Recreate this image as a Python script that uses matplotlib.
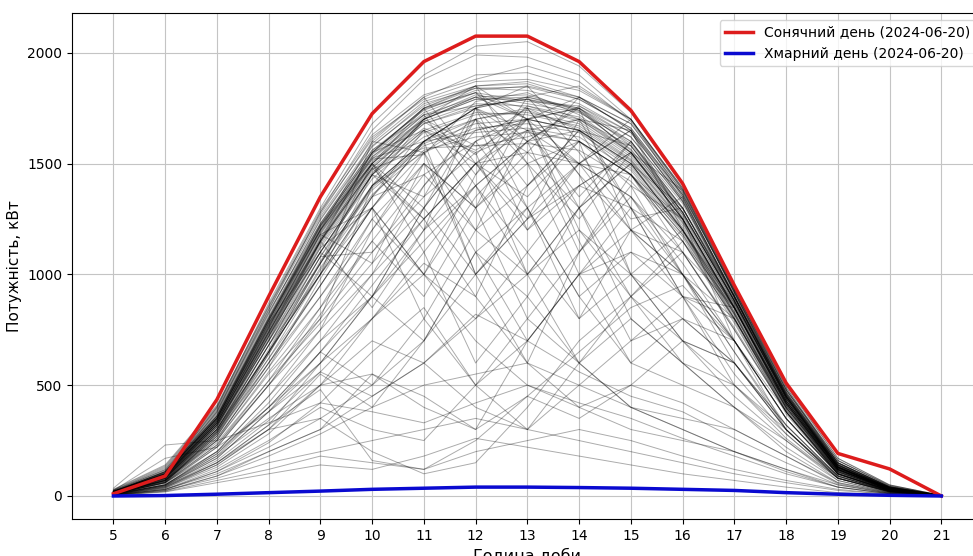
import matplotlib
matplotlib.use('Agg')
import matplotlib.pyplot as plt

plt.rcParams['font.family'] = ['DejaVu Sans']
plt.rcParams['font.size'] = 10

hours = list(range(5, 22))

# sunny / cloudy reference days
sunny = [10, 90, 435, 900, 1350, 1725, 1960, 2075, 2075, 1960, 1740, 1410, 950, 510, 192, 122, 0]
cloudy = [0, 2, 8, 15, 22, 30, 35, 40, 40, 38, 35, 30, 25, 15, 8, 3, 0]

# all daily profiles (kW per hour, 5..21)
days = [
    [20, 110, 380, 820, 1250, 1580, 1760, 1850, 1870, 1800, 1650, 1360, 930, 480, 150, 40, 2],
    [15, 90, 340, 760, 1180, 1500, 1700, 1790, 1800, 1740, 1560, 1280, 880, 440, 130, 35, 2],
    [25, 130, 400, 850, 1280, 1610, 1800, 1900, 1910, 1840, 1700, 1390, 940, 490, 160, 45, 3],
    [10, 70, 300, 700, 1100, 1430, 1640, 1720, 1730, 1680, 1520, 1240, 850, 420, 120, 30, 1],
    [18, 100, 360, 790, 1210, 1540, 1730, 1820, 1780, 1760, 1620, 1330, 900, 460, 140, 38, 2],
    [12, 80, 320, 730, 1140, 1470, 1660, 1560, 1700, 1650, 1500, 1220, 830, 400, 110, 28, 1],
    [22, 120, 390, 830, 1230, 1560, 1720, 1760, 1790, 1700, 1540, 1260, 870, 450, 135, 40, 2],
    [8, 60, 280, 650, 1050, 1380, 1580, 1660, 1680, 1640, 1480, 1200, 820, 390, 100, 25, 1],
    [30, 140, 410, 860, 1290, 1630, 1810, 1880, 1940, 1870, 1690, 1380, 930, 500, 170, 50, 3],
    [14, 85, 330, 740, 1150, 1480, 1690, 1770, 1760, 1690, 1530, 1250, 860, 430, 125, 32, 2],
    [20, 105, 350, 780, 1200, 1520, 1540, 1780, 1820, 1720, 1550, 1270, 890, 455, 140, 36, 2],
    [16, 95, 345, 770, 1190, 1500, 1710, 1810, 1770, 1730, 1600, 1320, 895, 445, 135, 34, 2],
    [10, 75, 310, 710, 1120, 1450, 1620, 1700, 1740, 1660, 1510, 1230, 840, 410, 115, 30, 1],
    [25, 125, 395, 840, 1260, 1590, 1780, 1850, 1860, 1790, 1660, 1360, 920, 470, 150, 42, 2],
    [12, 70, 290, 680, 1080, 1400, 1600, 1640, 1660, 1620, 1470, 1190, 810, 380, 105, 26, 1],
    [18, 110, 370, 800, 1220, 1550, 1750, 1840, 1830, 1770, 1640, 1340, 910, 465, 145, 40, 2],
    [20, 100, 355, 795, 1215, 1530, 1700, 1580, 1620, 1700, 1580, 1280, 880, 450, 140, 38, 2],
    [15, 90, 330, 750, 1160, 1490, 1680, 1760, 1790, 1750, 1620, 1330, 900, 460, 140, 36, 2],
    [22, 115, 375, 810, 1230, 1560, 1740, 1830, 1850, 1800, 1680, 1370, 915, 462, 150, 42, 2],
    [10, 65, 270, 640, 1030, 1360, 1560, 1620, 1640, 1600, 1450, 1180, 800, 380, 100, 24, 1],
    [28, 135, 405, 855, 1270, 1620, 1790, 1870, 1880, 1830, 1700, 1385, 935, 480, 160, 48, 3],
    [14, 88, 335, 755, 1170, 1500, 1690, 1540, 1760, 1710, 1550, 1270, 870, 430, 128, 33, 2],
    [17, 98, 350, 775, 1195, 1520, 1720, 1800, 1810, 1740, 1590, 1300, 885, 448, 138, 36, 2],
    [9, 62, 285, 660, 1060, 1390, 1590, 1680, 1700, 1650, 1490, 1210, 825, 395, 108, 27, 1],
    [21, 108, 365, 805, 1225, 1545, 1745, 1820, 1600, 1760, 1640, 1340, 905, 458, 143, 39, 2],
    [19, 102, 360, 790, 1205, 1525, 1600, 1750, 1800, 1750, 1580, 1295, 895, 452, 140, 37, 2],
    [11, 78, 315, 720, 1130, 1460, 1650, 1730, 1720, 1670, 1515, 1235, 845, 415, 118, 30, 1],
    [24, 118, 385, 825, 1245, 1575, 1770, 1840, 1845, 1790, 1660, 1360, 925, 468, 148, 41, 2],
    [13, 82, 325, 735, 1145, 1475, 1570, 1580, 1590, 1560, 1420, 1170, 790, 370, 98, 24, 1],
    [16, 92, 340, 765, 1185, 1510, 1700, 1790, 1790, 1735, 1565, 1280, 880, 442, 132, 34, 2],
    [20, 100, 400, 870, 1300, 1680, 1900, 2030, 2050, 1940, 1730, 1400, 940, 500, 170, 50, 3],
    [18, 95, 380, 840, 1280, 1650, 1880, 1990, 1980, 1900, 1700, 1380, 920, 480, 160, 45, 2],
    [12, 70, 250, 600, 950, 1300, 1600, 1750, 1800, 1850, 1700, 1390, 930, 490, 150, 40, 2],
    [10, 60, 220, 500, 800, 1400, 1700, 1800, 1700, 1800, 1680, 1370, 920, 480, 150, 40, 2],
    [15, 90, 330, 740, 1150, 1480, 1250, 900, 1400, 1600, 1450, 1150, 800, 400, 120, 30, 1],
    [20, 100, 350, 780, 1100, 900, 1300, 1600, 1700, 1500, 1200, 900, 700, 350, 100, 25, 1],
    [10, 70, 280, 600, 900, 1200, 1500, 1300, 800, 1100, 1400, 1250, 850, 420, 120, 30, 1],
    [12, 80, 300, 650, 1000, 1350, 1600, 1750, 1500, 1000, 600, 800, 700, 300, 80, 20, 1],
    [18, 110, 360, 800, 1200, 1500, 1100, 600, 900, 1300, 1500, 1200, 850, 420, 130, 34, 2],
    [8, 50, 200, 450, 700, 1000, 1400, 1650, 1700, 1650, 1500, 1200, 820, 400, 110, 28, 1],
    [14, 85, 320, 720, 1100, 1450, 1650, 1500, 1200, 1400, 1550, 1250, 850, 430, 125, 32, 2],
    [16, 95, 340, 760, 1180, 1300, 800, 500, 700, 1000, 1200, 1100, 750, 380, 100, 25, 1],
    [10, 60, 250, 550, 800, 1100, 1350, 1550, 1650, 1600, 1400, 1000, 600, 300, 80, 20, 1],
    [20, 105, 350, 790, 1200, 1530, 1720, 1400, 1000, 1300, 1600, 1280, 880, 440, 130, 35, 2],
    [12, 75, 290, 620, 950, 1300, 1000, 1350, 1600, 1750, 1550, 1250, 850, 410, 120, 30, 1],
    [9, 55, 220, 500, 820, 1150, 1450, 1600, 1300, 900, 1100, 1000, 700, 350, 95, 22, 1],
    [15, 88, 320, 700, 1050, 1400, 1600, 1700, 1750, 1450, 1000, 700, 600, 320, 90, 22, 1],
    [18, 100, 340, 750, 1150, 850, 1200, 1500, 1650, 1700, 1550, 1250, 860, 430, 130, 34, 2],
    [11, 70, 260, 580, 900, 1250, 1500, 1100, 700, 1000, 1300, 1150, 800, 400, 110, 28, 1],
    [13, 80, 300, 680, 1050, 1400, 1550, 1650, 1700, 1200, 900, 1100, 850, 420, 120, 30, 1],
    [7, 45, 180, 400, 650, 950, 1250, 1500, 1550, 1500, 1350, 1100, 760, 380, 100, 24, 1],
    [17, 95, 330, 730, 1100, 1450, 1250, 1500, 1350, 1600, 1450, 1150, 780, 380, 110, 28, 1],
    [14, 85, 310, 700, 1080, 1100, 1400, 1700, 1550, 1300, 1500, 1300, 900, 450, 130, 33, 2],
    [10, 65, 240, 520, 780, 1050, 1300, 1000, 1250, 1500, 1450, 1200, 830, 410, 115, 30, 1],
    [19, 105, 350, 770, 1150, 1480, 1680, 1750, 1300, 800, 1000, 1200, 870, 430, 125, 32, 2],
    [12, 70, 270, 600, 950, 1300, 1550, 1000, 600, 1100, 1450, 1250, 850, 420, 120, 30, 1],
    [16, 90, 320, 720, 1100, 1450, 1700, 1800, 1750, 1650, 1300, 900, 500, 300, 90, 22, 1],
    [8, 50, 190, 420, 700, 900, 1150, 1400, 1600, 1650, 1500, 1200, 800, 390, 105, 26, 1],
    [15, 85, 300, 680, 1000, 1300, 1000, 800, 1100, 1400, 1550, 1250, 850, 420, 118, 30, 1],
    [20, 110, 360, 800, 1220, 1550, 1750, 1820, 1700, 1300, 800, 600, 500, 260, 80, 20, 1],
    [10, 60, 230, 500, 750, 1000, 1250, 1500, 1700, 1750, 1600, 1300, 880, 440, 130, 33, 2],
    [13, 78, 290, 650, 1000, 1350, 1450, 1200, 1400, 1650, 1580, 1280, 880, 440, 128, 33, 2],
    [17, 96, 330, 740, 1120, 1300, 1600, 1750, 1650, 1500, 1350, 1000, 650, 320, 90, 22, 1],
    [11, 68, 250, 560, 850, 1150, 900, 1300, 1500, 1600, 1450, 1180, 820, 410, 115, 30, 1],
    [14, 80, 300, 650, 1050, 1500, 1300, 1700, 1200, 1500, 1650, 1350, 900, 470, 140, 35, 2],
    [16, 90, 320, 700, 1150, 1550, 1750, 1450, 1800, 1550, 1250, 1300, 900, 450, 130, 33, 2],
    [11, 65, 260, 580, 980, 1350, 1650, 1550, 1000, 600, 900, 1150, 850, 420, 120, 30, 1],
    [13, 75, 290, 650, 1000, 1600, 1550, 1200, 1650, 1350, 1600, 1300, 880, 440, 130, 33, 2],
    [15, 85, 310, 720, 1150, 1500, 1200, 1750, 1600, 1100, 1350, 1050, 700, 350, 100, 25, 1],
    [9, 50, 200, 450, 750, 1200, 1550, 1700, 1400, 1650, 1450, 1100, 750, 380, 100, 25, 1],
    [17, 95, 340, 760, 1180, 1050, 1500, 1300, 1750, 1700, 1300, 900, 800, 420, 120, 30, 1],
    [12, 70, 270, 620, 1000, 1450, 1700, 1850, 1500, 1250, 1550, 1380, 920, 460, 135, 34, 2],
    [20, 100, 350, 780, 1200, 1600, 1800, 1500, 1250, 1700, 1650, 1200, 850, 430, 125, 32, 2],
    [8, 45, 170, 380, 650, 900, 1300, 1600, 1750, 1450, 1200, 1350, 900, 450, 130, 33, 2],
    [14, 82, 300, 680, 1080, 1450, 1350, 1750, 1850, 1600, 1000, 800, 600, 300, 85, 20, 1],
    [16, 92, 330, 740, 1160, 1550, 1650, 1300, 1550, 1800, 1650, 1250, 700, 380, 110, 28, 1],
    [6, 35, 140, 300, 500, 800, 1100, 1400, 1600, 1500, 1700, 1350, 900, 450, 130, 33, 2],
    [10, 60, 230, 520, 850, 1250, 1000, 1450, 1700, 1750, 1200, 1000, 800, 400, 115, 28, 1],
    [18, 100, 350, 790, 1220, 1500, 1750, 1850, 1700, 1150, 700, 900, 850, 430, 125, 32, 2],
    [12, 72, 280, 640, 1020, 1400, 1600, 1000, 1300, 1500, 1650, 1330, 900, 450, 132, 33, 2],
    [5, 30, 120, 250, 400, 300, 250, 500, 800, 600, 400, 300, 200, 120, 50, 12, 0],
    [8, 45, 150, 300, 350, 200, 100, 150, 400, 700, 900, 600, 400, 200, 60, 15, 0],
    [4, 25, 80, 150, 200, 250, 300, 350, 300, 250, 200, 150, 100, 60, 25, 8, 0],
    [6, 35, 130, 280, 500, 700, 600, 400, 300, 500, 700, 800, 600, 300, 90, 20, 1],
    [10, 60, 200, 400, 600, 800, 1000, 700, 500, 400, 300, 250, 200, 120, 40, 10, 0],
    [3, 20, 70, 120, 180, 150, 120, 200, 250, 300, 250, 180, 120, 70, 30, 8, 0],
    [7, 40, 140, 300, 550, 400, 700, 1100, 1300, 900, 600, 500, 400, 250, 80, 18, 1],
    [5, 30, 100, 200, 300, 450, 600, 800, 1000, 1200, 1000, 700, 450, 250, 70, 15, 0],
    [9, 50, 180, 350, 500, 550, 450, 300, 450, 650, 850, 950, 700, 350, 100, 22, 1],
    [4, 22, 90, 180, 280, 400, 500, 550, 600, 500, 400, 300, 200, 110, 40, 10, 0],
    [6, 38, 150, 320, 480, 160, 120, 250, 450, 350, 500, 420, 300, 180, 60, 14, 0],
    [8, 48, 170, 380, 600, 900, 1200, 1400, 1100, 800, 1200, 1000, 700, 350, 100, 22, 1],
    [5, 28, 110, 220, 350, 500, 700, 1000, 1250, 1400, 1300, 1000, 650, 300, 80, 18, 0],
    [7, 42, 160, 340, 560, 800, 1050, 900, 600, 400, 500, 700, 600, 320, 90, 20, 1],
    [3, 18, 60, 100, 140, 120, 180, 260, 220, 180, 140, 100, 70, 40, 15, 5, 0],
    [6, 40, 150, 320, 600, 900, 700, 1100, 900, 600, 800, 600, 400, 220, 70, 16, 1],
    [5, 30, 110, 240, 420, 650, 850, 500, 300, 600, 400, 350, 300, 180, 55, 12, 0],
    [8, 50, 190, 400, 650, 500, 800, 1200, 1000, 1300, 900, 700, 500, 280, 80, 18, 1],
    [4, 25, 90, 200, 300, 550, 400, 300, 700, 1000, 1100, 900, 550, 280, 80, 18, 0],
    [35, 230, 250, 330, 420, 380, 330, 420, 500, 420, 350, 260, 180, 100, 40, 10, 0],
    [25, 170, 220, 380, 560, 450, 600, 820, 700, 560, 450, 380, 260, 150, 50, 12, 0],
]

fig = plt.figure(figsize=(9.73, 5.56), dpi=100)
ax = fig.add_axes([0.074, 0.0665, 0.936, 0.910])

for d in days:
    ax.plot(hours, d, color='black', alpha=0.33, linewidth=0.7)

ax.plot(hours, sunny, color='#dd1c1c', linewidth=2.5, label='Сонячний день (2024-06-20)')
ax.plot(hours, cloudy, color='#0a0ad0', linewidth=2.5, label='Хмарний день (2024-06-20)')

ax.set_xticks(hours)
ax.set_xlim(4.2, 21.8)
ax.set_ylim(-104, 2179)
ax.set_xlabel('Година доби', fontsize=11.5)
ax.set_ylabel('Потужність, кВт', fontsize=11)
ax.grid(True, color='#c4c4c4')
ax.legend(loc='upper right')

plt.savefig('out.png', dpi=100)
plt.close()
